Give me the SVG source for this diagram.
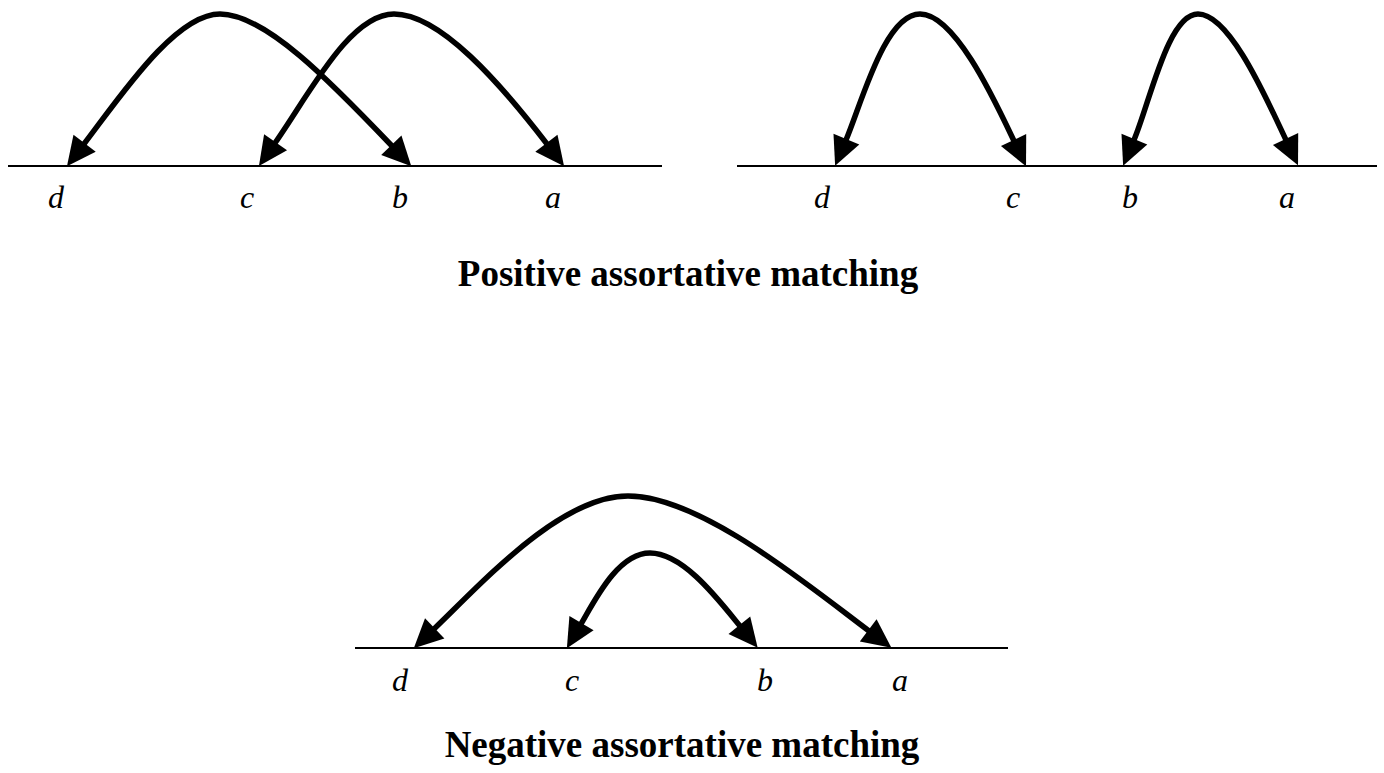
<svg xmlns="http://www.w3.org/2000/svg" width="1384" height="773" viewBox="0 0 1384 773">
<style>
.axis{stroke:#000;stroke-width:2;fill:none}
.arc{stroke:#000;stroke-width:5.5;fill:none;marker-start:url(#ah);marker-end:url(#ah)}
.lbl{font-family:"Liberation Serif","Times New Roman",serif;font-style:italic;font-size:32px;fill:#000;text-anchor:middle}
.ttl{font-family:"Liberation Serif","Times New Roman",serif;font-weight:bold;font-size:37px;fill:#000;text-anchor:middle}
</style>
<defs>
<marker id="ah" viewBox="-4 -16 36 32" markerWidth="36" markerHeight="32" refX="0" refY="0" markerUnits="userSpaceOnUse" orient="auto-start-reverse" overflow="visible">
<path d="M-1,-14 L28,0 L-1,14 Z" fill="#000"/>
</marker>
</defs>
<rect width="1384" height="773" fill="#fff"/>
<g id="panel-positive-1">
<line class="axis" x1="8" y1="166" x2="662" y2="166"/>
<text class="lbl" x="56" y="208">d</text>
<text class="lbl" x="247" y="208">c</text>
<text class="lbl" x="400" y="208">b</text>
<text class="lbl" x="553" y="208">a</text>
</g>
<g id="panel-positive-2">
<line class="axis" x1="737" y1="166" x2="1377" y2="166"/>
<text class="lbl" x="822" y="208">d</text>
<text class="lbl" x="1013" y="208">c</text>
<text class="lbl" x="1130" y="208">b</text>
<text class="lbl" x="1287" y="208">a</text>
</g>
<g id="title-positive">
<text class="ttl" x="688" y="286">Positive assortative matching</text>
</g>
<g id="panel-negative">
<line class="axis" x1="355" y1="648" x2="1008" y2="648"/>
<text class="lbl" x="400" y="691">d</text>
<text class="lbl" x="572" y="691">c</text>
<text class="lbl" x="765" y="691">b</text>
<text class="lbl" x="900" y="691">a</text>
</g>
<g id="title-negative">
<text class="ttl" x="682" y="757">Negative assortative matching</text>
</g>
<g id="connectors">
<path class="arc" d="M84,144 C120,97 175,14 220,14 C265,14 330,81 392,146"/>
<path class="arc" d="M275,143 C310,93 350,14 394,14 C440,14 500,83 547,144"/>
<path class="arc" d="M846,140 C862,102 885,14 920,14 C955,14 995,101 1014,141"/>
<path class="arc" d="M1134,140 C1150,102 1168,14 1198,14 C1230,14 1267,100 1286,140"/>
<path class="arc" d="M434,629 C482,583 560,496 628,496 C700,496 805,583 869,631"/>
<path class="arc" d="M581,624 C595,600 618,553 650,553 C683,553 718,599 740,626"/>
</g>
</svg>
